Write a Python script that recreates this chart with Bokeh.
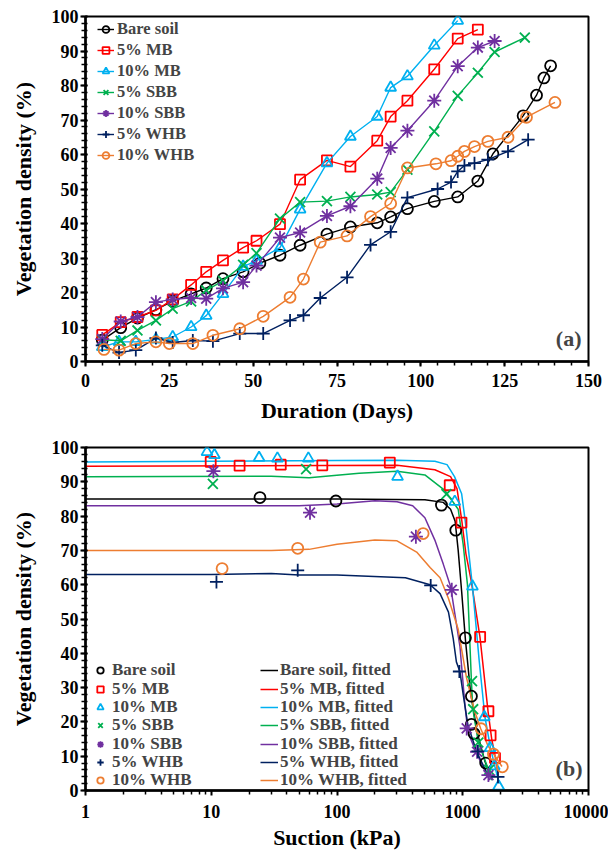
from bokeh.plotting import figure
from bokeh.models import (Legend, LegendItem, SingleIntervalTicker, FixedTicker,
                          NumeralTickFormatter, Label, Range1d)
from bokeh.layouts import column
from bokeh.embed import file_html
from bokeh.resources import INLINE

# ---------------- Panel (a): vegetation density vs duration ----------------
bare_days = [5, 10.5, 15.5, 21, 26, 31.5, 36, 41, 47, 52, 58, 64, 72, 79, 87, 91, 96, 104, 111, 117, 121.5, 130.5, 134.5, 136.7, 138.7]
bare_veg = [6.2, 9.8, 12.6, 15, 17.5, 19.6, 21.3, 24, 26, 28.5, 30.8, 33.7, 36.9, 39, 40.2, 41.9, 44.3, 46.4, 47.7, 52.3, 60.2, 71.2, 77.2, 82.2, 85.7]

mb5_days = [5, 10.5, 15.5, 21, 26, 31.5, 36, 41, 47, 51, 58, 64, 72, 79, 87, 91, 96, 104, 111, 117]
mb5_veg = [7.7, 11.4, 12.9, 14.8, 18, 22.2, 26, 29.3, 33, 35, 39.8, 52.7, 58.3, 56.5, 64, 71, 75.6, 84.7, 93.6, 96.2]

mb10_days = [5, 10, 15, 21, 26, 31.5, 36, 41, 47, 51, 58, 64, 72, 79, 87, 91, 96, 104, 111]
mb10_veg = [4.2, 5.7, 5.7, 6.4, 7.1, 10, 13.3, 19.6, 27.5, 29.2, 33, 44.1, 57.5, 65.2, 71, 79.4, 82.7, 91.6, 98.8]

sbb5_days = [5, 10.5, 15.5, 21, 26, 31.5, 36, 41, 47, 51, 58, 64, 72, 79, 87, 91, 96, 104, 111, 117, 122, 131]
sbb5_veg = [6.3, 6.0, 9, 11.9, 15.3, 17.4, 20.6, 23.4, 28, 31.4, 41.4, 46.2, 46.5, 47.7, 48.4, 49.1, 55.6, 66.7, 77, 83.7, 89.7, 93.9]

sbb10_days = [5, 10.5, 15.5, 21, 26, 31.5, 36, 41, 47, 51, 58, 64, 72, 79, 87, 91, 96, 104, 111, 117, 122]
sbb10_veg = [6.5, 11.6, 12.9, 17.2, 18, 18.4, 18.2, 21.2, 23, 27.8, 35.9, 37.4, 42.2, 45, 53, 61.9, 66.9, 75.6, 85.6, 91, 92.9]

whb5_days = [5, 10, 15, 21, 26, 32, 38, 46, 53, 61, 65, 70, 78, 85, 91, 96, 105, 109, 111, 113, 116, 120, 126, 132]
whb5_veg = [4.7, 2.6, 3.3, 6.8, 5.5, 6.1, 5.9, 8.1, 8.1, 11.9, 13.4, 18.4, 24.4, 33.8, 37.6, 47.5, 50, 52, 55.1, 56.8, 57.5, 58.5, 60.9, 64.3]

whb10_days = [5.5, 10, 15, 21, 25, 32, 38, 46, 53, 61, 65, 70, 78, 85, 91, 96, 104.5, 109, 111, 113, 116, 120, 126, 131.5, 140]
whb10_veg = [3.5, 3.3, 5.2, 5.7, 5.2, 5.2, 7.6, 9.5, 13.1, 18.6, 23.9, 34.6, 36.4, 42, 45.8, 56.1, 57.3, 58.2, 59.5, 60.9, 62.3, 63.8, 65, 70.8, 75.1]

# ---------------- Panel (b): vegetation density vs suction ----------------
bare_suc = [24.4, 98, 677, 880, 1050, 1172, 1172, 1230, 1523]
bare_dens = [85.4, 84.4, 83.2, 75.9, 44.5, 27.5, 19.3, 16.6, 8.0]
mb5_suc = [9.9, 16.8, 35.7, 76.4, 263, 788, 977, 1375, 1600, 1665, 1805]
mb5_dens = [95.8, 94.7, 95.0, 94.8, 95.6, 89.0, 78.1, 44.8, 23.1, 16.1, 9.5]
mb10_suc = [9.25, 10.6, 24, 33.6, 59.2, 303, 864, 1194, 1485, 1650, 1780, 1930]
mb10_dens = [98.7, 97.8, 97.0, 96.8, 96.8, 91.5, 84.2, 59.5, 21.4, 12.4, 7.1, 1.2]
sbb5_suc = [10.3, 56.8, 742, 1185, 1210, 1330, 1620]
sbb5_dens = [89.4, 93.7, 86.4, 31.9, 23.7, 14.0, 6.0]
sbb10_suc = [10.4, 61, 424, 818, 1075, 1300, 1600]
sbb10_dens = [93.1, 81.0, 74.0, 58.5, 18.1, 11.3, 4.5]
whb5_suc = [11, 48.7, 556, 940, 1320, 1906]
whb5_dens = [60.8, 64.2, 59.8, 34.7, 11.4, 4.0]
whb10_suc = [12.2, 48.7, 484, 1400, 1755, 2065]
whb10_dens = [64.7, 70.6, 74.9, 18.0, 10.6, 6.9]

# fitted curves
bare_fit_s = [1, 100, 500, 700, 800, 870, 920, 980, 1050, 1150, 1300, 1500, 1700]
bare_fit_v = [85.0, 85.0, 84.8, 84.0, 82.0, 78.5, 70, 58, 44, 29, 17, 8.5, 3.5]
mb5_fit_s = [1, 300, 600, 800, 900, 980, 1060, 1170, 1370, 1590, 1700, 1820, 1920]
mb5_fit_v = [94.5, 94.8, 93.5, 91.5, 88, 79, 69, 61, 44.8, 23, 15, 9.5, 3.5]
mb10_fit_s = [1, 100, 300, 600, 750, 860, 980, 1060, 1194, 1350, 1500, 1660, 1800, 1950]
mb10_fit_v = [95.8, 96.2, 96.3, 96, 95, 91.5, 86.5, 77, 59.6, 38, 21.5, 12.5, 7, 2]
sbb5_fit_s = [1, 30, 60, 150, 300, 500, 720, 920, 1006, 1090, 1172, 1200, 1330, 1620, 1700]
sbb5_fit_v = [91.5, 91.6, 91.2, 92.5, 93.1, 92, 87.5, 82, 72, 60, 32, 24, 14, 5.6, 3]
sbb10_fit_s = [1, 50, 100, 200, 300, 400, 500, 600, 700, 800, 950, 1040, 1100, 1300, 1560, 1650]
sbb10_fit_v = [83, 83, 83.5, 84.5, 84.2, 83, 79.5, 73, 66, 59.5, 42, 25, 17, 10.5, 4.5, 3]
whb5_fit_s = [1, 10, 30, 50, 100, 350, 550, 660, 770, 840, 890, 950, 1010, 1100, 1290, 1540, 1700]
whb5_fit_v = [63, 63, 63.3, 62.8, 62.8, 62, 60, 57.4, 52, 44.3, 37.5, 34.6, 27.8, 19, 11.3, 5.5, 3.5]
whb10_fit_s = [1, 30, 60, 100, 200, 300, 430, 550, 660, 770, 920, 1070, 1245, 1390, 1590, 1770, 2050]
whb10_fit_v = [70, 70, 70.3, 71.8, 73, 72.8, 69.5, 65, 62, 56, 47, 33, 23, 18, 13, 10.5, 7]

names = ["Bare soil", "5% MB", "10% MB", "5% SBB", "10% SBB", "5% WHB", "10% WHB"]
colors = ["#000000", "#FF0000", "#00B0F0", "#00B050", "#7030A0", "#002060", "#ED7D31"]
markers = ["circle", "square", "triangle", "x", "asterisk", "cross", "circle"]
msizes = [11, 10, 11, 14, 14, 13, 11]

FONT = "Liberation Serif"


def style(p, x_in=0):
    p.xgrid.visible = False
    p.ygrid.visible = False
    p.outline_line_color = "black"
    p.outline_line_width = 2
    p.background_fill_color = "white"
    p.border_fill_color = "white"
    for ax in (p.xaxis[0], p.yaxis[0]):
        ax.axis_line_width = 2.5
        ax.major_tick_line_width = 2
        ax.minor_tick_line_width = 1.5
        ax.major_tick_out = 5
        ax.minor_tick_out = 4
        ax.major_label_text_font = FONT
        ax.major_label_text_font_style = "bold"
        ax.major_label_text_font_size = "18px"
        ax.major_label_text_color = "black"
        ax.axis_label_text_font = FONT
        ax.axis_label_text_font_style = "bold"
        ax.axis_label_text_font_size = "22px"
        ax.axis_label_text_color = "black"
    p.yaxis[0].major_tick_in = 2
    p.yaxis[0].minor_tick_in = 2
    p.xaxis[0].major_tick_in = x_in
    p.xaxis[0].minor_tick_in = x_in
    p.yaxis[0].major_label_standoff = 2
    p.yaxis[0].axis_label_standoff = 13


# ---------------- figure (a) ----------------
pa = figure(width=608, height=425, x_range=Range1d(0, 150), y_range=Range1d(0, 100),
            output_backend="svg", toolbar_location=None,
            min_border_left=84, min_border_right=20, min_border_top=16, min_border_bottom=62)
style(pa)
pa.xaxis[0].ticker = SingleIntervalTicker(interval=25, num_minor_ticks=5)
pa.yaxis[0].ticker = SingleIntervalTicker(interval=10, num_minor_ticks=5)
pa.xaxis[0].axis_label = "Duration (Days)"
pa.yaxis[0].axis_label = "Vegetation density (%)"
pa.xaxis[0].major_label_standoff = 7
pa.xaxis[0].axis_label_standoff = 8

series_a = [(bare_days, bare_veg), (mb5_days, mb5_veg), (mb10_days, mb10_veg),
            (sbb5_days, sbb5_veg), (sbb10_days, sbb10_veg), (whb5_days, whb5_veg),
            (whb10_days, whb10_veg)]
items_a = []
for (xs, ys), nm, c, mk, ms in zip(series_a, names, colors, markers, msizes):
    lr = pa.line(xs, ys, line_color=c, line_width=1.4)
    sr = pa.scatter(xs, ys, marker=mk, size=ms, line_color=c, fill_color=None, line_width=1.8)
    items_a.append(LegendItem(label=nm, renderers=[lr, sr]))

leg_a = Legend(items=items_a, location=(12, 196), label_text_font=FONT,
               label_text_font_style="bold", label_text_font_size="16.5px",
               glyph_width=17, glyph_height=18, label_height=18, label_standoff=3,
               spacing=1, padding=2, margin=0, border_line_color=None,
               background_fill_alpha=0)
pa.add_layout(leg_a)
pa.add_layout(Label(x=496, y=23, x_units="screen", y_units="screen", text="(a)",
                    text_align="right", text_baseline="middle", text_font=FONT,
                    text_font_style="bold", text_font_size="22px"))

# ---------------- figure (b) ----------------
pb = figure(width=608, height=427, x_axis_type="log", x_range=Range1d(1, 10000),
            y_range=Range1d(0, 100), output_backend="svg", toolbar_location=None,
            min_border_left=85, min_border_right=19, min_border_top=22, min_border_bottom=62)
style(pb)
major_b = [1, 10, 100, 1000, 10000]
minor_b = [m * 10 ** e for e in range(0, 4) for m in range(2, 10)]
pb.xaxis[0].ticker = FixedTicker(ticks=major_b, minor_ticks=minor_b)
pb.xaxis[0].formatter = NumeralTickFormatter(format="0")
pb.yaxis[0].ticker = SingleIntervalTicker(interval=10, num_minor_ticks=5)
pb.xaxis[0].axis_label = "Suction (kPa)"
pb.yaxis[0].axis_label = "Vegetation density (%)"
pb.xaxis[0].major_label_standoff = 9
pb.xaxis[0].axis_label_standoff = 4

series_b = [(bare_suc, bare_dens), (mb5_suc, mb5_dens), (mb10_suc, mb10_dens),
            (sbb5_suc, sbb5_dens), (sbb10_suc, sbb10_dens), (whb5_suc, whb5_dens),
            (whb10_suc, whb10_dens)]
fits_b = [(bare_fit_s, bare_fit_v), (mb5_fit_s, mb5_fit_v), (mb10_fit_s, mb10_fit_v),
          (sbb5_fit_s, sbb5_fit_v), (sbb10_fit_s, sbb10_fit_v), (whb5_fit_s, whb5_fit_v),
          (whb10_fit_s, whb10_fit_v)]
items_pts, items_fit = [], []
for (fs, fv), nm, c in zip(fits_b, names, colors):
    fr = pb.line(fs, fv, line_color=c, line_width=1.5)
    items_fit.append(LegendItem(label=nm + ", fitted", renderers=[fr]))
for (xs, ys), nm, c, mk, ms in zip(series_b, names, colors, markers, msizes):
    sr = pb.scatter(xs, ys, marker=mk, size=ms, line_color=c, fill_color=None, line_width=1.8)
    items_pts.append(LegendItem(label=nm, renderers=[sr]))

# one small legend per row so that rows sit 18 px apart as in the reference
common = dict(label_text_font=FONT, label_text_font_style="bold", label_text_font_size="17px",
              glyph_height=16, label_height=16, spacing=0, padding=0, margin=0,
              border_line_color=None, background_fill_alpha=0)
for i, (ip, ifit) in enumerate(zip(items_pts, items_fit)):
    vy = round(120 - 18.33 * i - 10.3)
    pb.add_layout(Legend(items=[ip], location=(7, vy), glyph_width=16, label_standoff=4, **common))
    pb.add_layout(Legend(items=[ifit], location=(175, vy), glyph_width=18, label_standoff=2, **common))
pb.add_layout(Label(x=497, y=22, x_units="screen", y_units="screen", text="(b)",
                    text_align="right", text_baseline="middle", text_font=FONT,
                    text_font_style="bold", text_font_size="22px"))

layout = column(pa, pb, spacing=0)
open("out.html", "w").write(file_html(layout, INLINE))
